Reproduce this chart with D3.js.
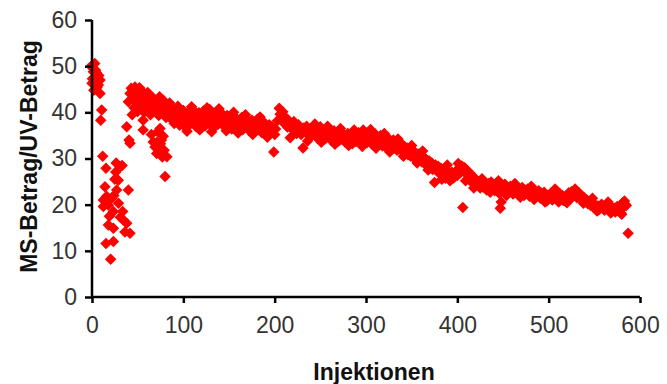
<!DOCTYPE html>
<html>
<head>
<meta charset="utf-8">
<script src="https://cdn.jsdelivr.net/npm/d3@7"></script>
<style>
  body { margin: 0; background: #fff; }
  text { font-family: "Liberation Sans", Arial, sans-serif; }
</style>
</head>
<body>
<svg id="chart" width="667" height="384"></svg>
<script>
// start of the run, injections 0-11
const startPoints = [
  [0, 50.2], [0.5, 47.3], [1, 49.5], [1.5, 48.8], [2, 46.2], [3, 50.6], [3.3, 46.6], [4, 49.1],
  [5, 48.5], [5.5, 45.4], [6, 47.6], [7, 45.9], [7.5, 48.0], [8.8, 47.0], [8.8, 44.1], [9.5, 38.3],
  [10.6, 40.5], [0, 46.3], [2, 44.8]
];

// scattered low values, injections 11-42
const dropPoints = [
  [11.7, 30.5], [15.3, 27.9], [30.7, 28.2], [33, 28.5], [26, 27.1], [28.8, 25.3], [14.2, 23.9],
  [39.8, 23.2], [27, 23.2], [12.4, 21.0], [21.6, 21.4], [17.9, 19.9], [12.4, 19.6], [23.4, 18.5],
  [33.6, 18.5], [34.3, 16.7], [38, 16.0], [17.9, 15.6], [23.4, 14.9], [41.6, 13.8], [36, 14.1],
  [15.3, 11.6], [23.4, 12.0], [20.4, 8.2], [25, 25.5], [29, 20.3], [31, 17.3], [16, 21.8],
  [19, 17.5], [24, 22.0], [26.5, 29.0]
];

// recovery, injections 38-89
const rampPoints = [
  [38, 36.9], [39.8, 42.3], [41.6, 44.1], [41.6, 33.3], [40.5, 34.0], [43, 45.2], [44, 39.5],
  [45, 43.0], [46, 41.0], [47, 45.5], [48, 44.0], [49, 42.0], [50, 40.2], [51, 41.2], [52, 45.3],
  [53, 43.5], [54, 44.8], [55, 42.6], [56, 38.3], [56, 36.2], [57, 40.0], [58, 43.8], [59, 41.8],
  [60, 40.5], [61, 44.3], [62, 42.5], [63, 43.8], [64, 39.5], [65, 42.0], [66, 40.8], [67, 43.1],
  [68, 41.5], [69, 32.5], [70, 40.1], [70.8, 31.1], [71, 33.5], [72, 42.2], [73, 39.3], [74, 43.4],
  [74.5, 36.5], [75, 41.0], [76, 34.0], [77, 30.3], [78, 42.6], [79, 39.8], [80, 41.2], [80, 26.1],
  [81, 38.9], [82, 30.4], [83, 40.5], [84, 39.2], [85, 42.0], [89, 40.5], [65, 35.2], [67, 33.6],
  [72, 35.8], [73, 31.9], [75, 33.2], [78, 34.8], [79, 31.8]
];

// plateau, injections 86-201
const plateauPoints = [
  [86, 41.0], [87, 38.5], [88, 40.2], [90, 37.6], [91, 39.8], [93, 38.9], [94, 41.3], [96, 37.2],
  [97, 39.5], [99, 38.1], [100, 40.4], [102, 36.8], [103, 39.0], [105, 38.2], [106, 40.0], [108, 37.5],
  [110, 39.3], [111, 38.0], [113, 40.1], [114, 36.9], [116, 38.8], [117, 39.9], [119, 37.7], [121, 38.6],
  [122, 40.3], [124, 37.1], [125, 39.2], [127, 38.4], [129, 40.6], [130, 37.9], [132, 39.7], [133, 36.6],
  [135, 38.9], [137, 40.2], [138, 37.4], [140, 39.0], [141, 38.1], [143, 39.6], [145, 36.9], [146, 38.5],
  [148, 39.3], [149, 37.6], [151, 38.8], [153, 36.4], [154, 38.0], [156, 39.1], [157, 37.3], [159, 38.4],
  [161, 36.8], [162, 37.9], [164, 38.9], [165, 36.2], [167, 37.6], [169, 38.6], [170, 36.9], [172, 37.8],
  [173, 35.9], [175, 38.3], [177, 37.0], [178, 36.1], [180, 37.4], [181, 38.5], [183, 36.3], [185, 37.2],
  [186, 35.6], [188, 36.8], [189, 37.7], [191, 35.3], [193, 36.5], [194, 37.3], [196, 35.8], [197, 36.9],
  [199, 31.4], [200, 35.2], [201, 36.4]
];

// injections 203-300
const midPoints = [
  [203, 38.2], [205, 40.9], [206, 39.6], [208, 38.4], [209, 40.1], [211, 37.5], [212, 38.9], [214, 36.8],
  [215, 38.3], [217, 34.5], [218, 37.6], [220, 36.2], [221, 38.0], [223, 36.9], [224, 35.4], [226, 37.3],
  [227, 36.1], [229, 35.2], [231, 32.3], [232, 36.6], [234, 35.7], [235, 37.0], [237, 35.1], [238, 36.3],
  [240, 34.8], [241, 35.9], [243, 36.8], [244, 35.0], [246, 36.2], [247, 34.4], [249, 35.6], [250, 36.9],
  [252, 34.9], [253, 35.8], [255, 34.2], [256, 35.4], [258, 36.1], [259, 34.6], [261, 35.5], [262, 33.9],
  [264, 35.0], [265, 36.0], [267, 34.3], [268, 35.2], [270, 33.8], [271, 34.9], [273, 35.7], [274, 34.1],
  [276, 35.0], [277, 33.6], [279, 34.5], [280, 35.4], [282, 33.9], [283, 34.8], [285, 33.2], [286, 34.4],
  [288, 35.3], [289, 33.7], [291, 34.6], [292, 35.6], [294, 33.5], [295, 34.3], [297, 36.2], [298, 34.0],
  [300, 35.1]
];

// injections 301-400
const declinePoints = [
  [301, 33.4], [303, 34.5], [304, 35.8], [306, 33.2], [307, 34.9], [309, 33.8], [310, 35.3], [312, 33.0],
  [313, 34.2], [315, 33.6], [316, 35.0], [318, 32.7], [319, 33.9], [321, 34.6], [322, 32.4], [324, 33.5],
  [325, 34.3], [327, 32.1], [328, 33.6], [330, 34.0], [331, 32.3], [333, 33.4], [334, 31.8], [336, 33.0],
  [337, 32.2], [339, 33.2], [340, 31.5], [342, 32.6], [343, 31.2], [345, 32.3], [346, 30.8], [348, 31.9],
  [349, 30.5], [351, 31.6], [352, 30.2], [354, 31.3], [355, 29.9], [357, 31.0], [358, 29.6], [360, 30.6],
  [361, 29.3], [363, 30.3], [364, 28.9], [366, 29.8], [367, 28.4], [369, 29.5], [370, 27.9], [372, 29.0],
  [373, 27.6], [375, 24.8], [376, 28.6], [378, 27.2], [379, 28.3], [381, 26.8], [382, 27.9], [384, 26.3],
  [385, 27.3], [387, 25.7], [388, 26.6], [390, 25.9], [391, 26.9], [393, 26.1], [394, 27.0], [396, 25.8],
  [397, 26.7], [399, 27.4], [400, 26.3]
];

// injections 402-500
const latePoints = [
  [402, 27.8], [403, 26.9], [405, 28.4], [406, 19.4], [407, 27.5], [408, 28.0], [410, 26.6], [411, 27.3],
  [413, 25.9], [414, 26.8], [416, 25.3], [417, 24.6], [419, 25.8], [420, 24.2], [422, 25.1], [423, 24.5],
  [425, 23.6], [426, 24.9], [428, 23.8], [429, 25.1], [431, 24.0], [432, 23.2], [434, 24.6], [435, 23.7],
  [437, 24.9], [438, 23.4], [440, 24.3], [441, 23.0], [443, 24.5], [444, 23.5], [446, 22.4], [447, 19.2],
  [448, 20.6], [449, 24.1], [450, 23.3], [452, 24.4], [453, 23.0], [455, 23.8], [456, 22.6], [458, 24.0],
  [459, 23.2], [461, 22.3], [462, 23.6], [464, 22.8], [465, 23.9], [467, 22.1], [468, 23.3], [470, 22.6],
  [471, 23.7], [473, 22.0], [474, 23.1], [476, 22.5], [477, 23.4], [479, 21.8], [480, 22.9], [482, 23.6],
  [483, 22.2], [485, 21.6], [486, 22.8], [488, 22.0], [489, 23.0], [491, 21.4], [492, 22.5], [494, 21.9],
  [495, 22.7], [497, 21.2], [498, 20.8], [500, 22.1]
];

// injections 501-587
const endPoints = [
  [501, 21.5], [503, 22.6], [504, 21.0], [506, 22.3], [507, 21.4], [509, 22.9], [510, 21.7], [512, 22.4],
  [513, 21.2], [515, 22.0], [516, 20.9], [518, 21.6], [519, 20.7], [521, 21.8], [522, 22.6], [524, 21.3],
  [525, 22.8], [527, 21.9], [528, 23.0], [530, 22.2], [531, 21.5], [533, 22.6], [534, 21.7], [536, 22.0],
  [537, 21.1], [539, 21.5], [540, 20.6], [542, 21.0], [543, 20.2], [545, 20.7], [546, 19.8], [548, 20.3],
  [549, 19.5], [551, 20.0], [552, 19.2], [554, 19.7], [555, 18.9], [557, 19.6], [558, 20.1], [560, 19.3],
  [561, 18.8], [563, 19.9], [564, 19.4], [566, 19.7], [567, 18.9], [569, 19.5], [570, 18.6], [572, 19.2],
  [573, 18.4], [575, 19.6], [576, 18.7], [578, 19.0], [579, 18.2], [581, 20.4], [582, 19.5], [584, 20.1],
  [585, 19.8], [587, 13.8]
];

// points along the upper and lower edges of the band
const edgePoints = [
  [104, 35.9], [118, 36.2], [131, 35.8], [147, 36.0], [160, 35.5], [176, 35.2], [192, 34.6],
  [109, 41.2], [126, 41.0], [139, 40.8], [155, 40.0], [168, 39.5], [184, 39.0],
  [236, 33.8], [251, 33.5], [266, 33.1], [281, 32.8], [296, 32.6], [311, 32.2], [326, 31.4],
  [341, 30.5], [356, 29.0], [368, 27.5], [383, 25.5], [392, 25.2], [409, 25.2], [418, 23.6],
  [436, 22.7], [454, 22.0], [469, 21.6], [484, 21.1], [496, 20.6], [511, 20.6], [520, 20.4],
  [538, 20.3], [553, 18.6], [568, 18.2], [580, 17.9],
  [244, 37.5], [258, 37.0], [272, 36.5], [287, 36.2], [305, 36.3], [320, 35.4], [335, 34.2],
  [350, 32.8], [362, 31.6], [389, 28.6], [401, 28.9], [427, 25.6], [445, 25.2], [463, 24.6],
  [481, 24.0], [507, 23.4], [529, 23.4], [548, 21.4], [565, 20.6], [583, 20.8]
];

const xTicks = [0, 100, 200, 300, 400, 500, 600];
const yTicks = [0, 10, 20, 30, 40, 50, 60];

const allPoints = [].concat(startPoints, dropPoints, rampPoints, plateauPoints,
  midPoints, declinePoints, latePoints, endPoints, edgePoints);

const svg = d3.select("#chart");

const x = d3.scaleLinear().domain([0, 600]).range([92, 640]);
const y = d3.scaleLinear().domain([0, 60]).range([297, 20]);

// markers (rotated squares = diamonds)
const diamond = d3.symbol().type(d3.symbolSquare).size(66);
svg.append("g")
  .selectAll("path")
  .data(allPoints)
  .enter()
  .append("path")
  .attr("d", diamond)
  .attr("transform", d => `translate(${x(d[0])},${y(d[1])}) rotate(45)`)
  .attr("fill", "#ff0000");

// Y axis
const yAxis = svg.append("g")
  .attr("transform", `translate(${x(0)},0)`)
  .call(d3.axisLeft(y).tickValues(yTicks).tickSize(7).tickPadding(8));

// X axis
const xAxis = svg.append("g")
  .attr("transform", `translate(0,${y(0)})`)
  .call(d3.axisBottom(x).tickValues(xTicks).tickSize(6).tickPadding(14));

[xAxis, yAxis].forEach(g => {
  g.select(".domain").attr("stroke", "#000").attr("stroke-width", 2.5);
  g.selectAll(".tick line").attr("stroke", "#000").attr("stroke-width", 2.5);
  g.selectAll(".tick text")
    .attr("fill", "#333")
    .style("font-size", "23px");
});
// remove the outer tick caps d3 puts on the domain path
xAxis.select(".domain").attr("d", `M${x(0)},0H${x(600)}`);
yAxis.select(".domain").attr("d", `M0,${y(0)}V${y(60)}`);

// axis titles
svg.append("text")
  .attr("x", (x(0) + x(600)) / 2 + 8)
  .attr("y", 380)
  .attr("text-anchor", "middle")
  .style("font-size", "23px")
  .style("font-weight", "bold")
  .attr("fill", "#111")
  .text("Injektionen");

svg.append("text")
  .attr("transform", `translate(37,${(y(0) + y(60)) / 2 - 2}) rotate(-90)`)
  .attr("text-anchor", "middle")
  .style("font-size", "23px")
  .style("font-weight", "bold")
  .attr("fill", "#111")
  .text("MS-Betrag/UV-Betrag");
</script>
</body>
</html>
